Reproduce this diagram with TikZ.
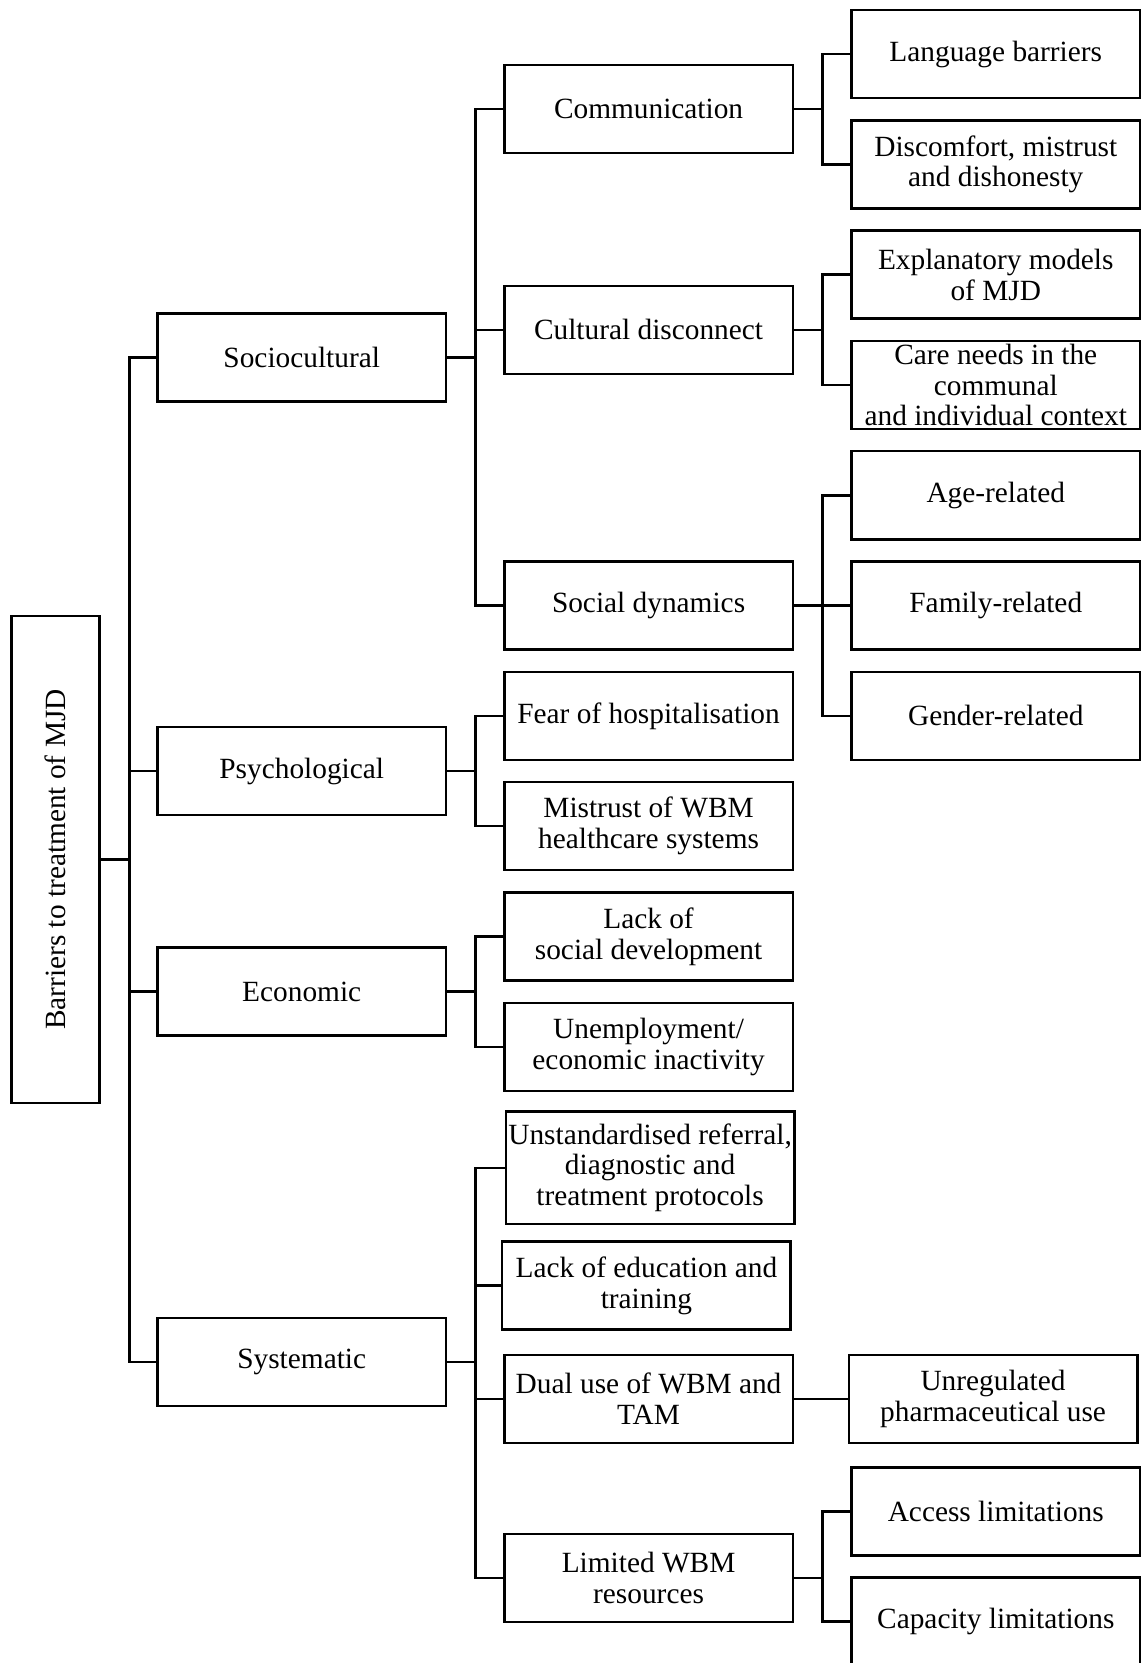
\documentclass[tikz,border=0pt]{standalone}
\usepackage{fontspec}
\setmainfont{Liberation Serif}
\usepackage{graphicx}
\usepackage{tikz}
\usetikzlibrary{positioning}

\begin{document}
\begin{tikzpicture}[
        catbox/.style={rectangle, draw, line width=1pt, minimum height=1.297cm, minimum width=4.25cm, align=center, inner xsep=1pt, inner ysep=0pt, font=\fontsize{12.3}{12.9}\selectfont},
        rootbox/.style={rectangle, draw, line width=1pt, minimum height=7.17cm, minimum width=1.297cm, inner sep=0pt, font=\fontsize{12.3}{12.9}\selectfont},
        link/.style={line width=1pt}
    ]
        \useasboundingbox (0,0) rectangle (16.8125,-24.5);
        \clip (0,0) rectangle (16.8125,-24.5);

        % Root
        \node[rootbox] (root) at (0.82,-12.664) {\rotatebox{90}{Barriers to treatment of MJD}};

        % Main barriers
        \node[catbox] (socio) at (4.445,-5.266) {Sociocultural};
        \node[catbox] (psych) at (4.445,-11.359) {Psychological};
        \node[catbox] (econ) at (4.445,-14.609) {Economic};
        \node[catbox] (syst) at (4.445,-20.063) {Systematic};

        % Sociocultural
        \node[catbox] (comm) at (9.555,-1.609) {Communication};
        \node[catbox] (cult) at (9.555,-4.859) {Cultural disconnect};
        \node[catbox] (social) at (9.555,-8.922) {Social dynamics};
        \node[catbox, right=0.83cm of comm, yshift=0.8125cm] (lang) {Language barriers};
        \node[catbox, right=0.83cm of comm, yshift=-0.8125cm] (discomf) {Discomfort, mistrust\\and dishonesty};
        \node[catbox, right=0.83cm of cult, yshift=0.8125cm] (explan) {Explanatory models\\of MJD};
        \node[catbox, right=0.83cm of cult, yshift=-0.8125cm] (care) {Care needs in the\\communal\\and individual context};
        \node[catbox, right=0.83cm of social, yshift=1.625cm] (age) {Age-related};
        \node[catbox, right=0.83cm of social] (family) {Family-related};
        \node[catbox, right=0.83cm of social, yshift=-1.625cm] (gender) {Gender-related};

        % Psychological
        \node[catbox] (fear) at (9.555,-10.547) {Fear of hospitalisation};
        \node[catbox] (mistrust) at (9.555,-12.172) {Mistrust of WBM\\healthcare systems};

        % Economic
        \node[catbox] (lackdev) at (9.555,-13.797) {Lack of\\social development};
        \node[catbox] (unemp) at (9.555,-15.422) {Unemployment/\\economic inactivity};

        % Systematic
        \node[catbox, minimum height=1.656cm] (unstd) at (9.578,-17.203) {Unstandardised referral,\\diagnostic and\\treatment protocols};
        \node[catbox] (lackedu) at (9.523,-18.938) {Lack of education and\\training};
        \node[catbox] (dual) at (9.555,-20.609) {Dual use of WBM and\\TAM};
        \node[catbox] (limited) at (9.555,-23.25) {Limited WBM\\resources};
        \node[catbox, right=0.79cm of dual] (unreg) {Unregulated\\pharmaceutical use};
        \node[catbox, right=0.83cm of limited, yshift=0.984cm] (access) {Access limitations};
        \node[catbox, right=0.83cm of limited, yshift=-0.64cm] (capacity) {Capacity limitations};

        % Root links
        \draw[link] (root.east) -- ++(0.42,0) |- (socio.west);
        \draw[link] (root.east) -- ++(0.42,0) |- (psych.west);
        \draw[link] (root.east) -- ++(0.42,0) |- (econ.west);
        \draw[link] (root.east) -- ++(0.42,0) |- (syst.west);

        % Second level links
        \draw[link] (socio.east) -- ++(0.42,0) |- (comm.west);
        \draw[link] (socio.east) -- ++(0.42,0) |- (cult.west);
        \draw[link] (socio.east) -- ++(0.42,0) |- (social.west);
        \draw[link] (psych.east) -- ++(0.42,0) |- (fear.west);
        \draw[link] (psych.east) -- ++(0.42,0) |- (mistrust.west);
        \draw[link] (econ.east) -- ++(0.42,0) |- (lackdev.west);
        \draw[link] (econ.east) -- ++(0.42,0) |- (unemp.west);
        \draw[link] (syst.east) -- ++(0.42,0) |- (unstd.west);
        \draw[link] (syst.east) -- ++(0.42,0) |- (lackedu.west);
        \draw[link] (syst.east) -- ++(0.42,0) |- (dual.west);
        \draw[link] (syst.east) -- ++(0.42,0) |- (limited.west);

        % Third level links
        \draw[link] (comm.east) -- ++(0.42,0) |- (lang.west);
        \draw[link] (comm.east) -- ++(0.42,0) |- (discomf.west);
        \draw[link] (cult.east) -- ++(0.42,0) |- (explan.west);
        \draw[link] (cult.east) -- ++(0.42,0) |- (care.west);
        \draw[link] (social.east) -- ++(0.42,0) |- (age.west);
        \draw[link] (social.east) -- (family.west);
        \draw[link] (social.east) -- ++(0.42,0) |- (gender.west);
        \draw[link] (dual) -- (unreg);
        \draw[link] (limited.east) -- ++(0.42,0) |- (access.west);
        \draw[link] (limited.east) -- ++(0.42,0) |- (capacity.west);
    \end{tikzpicture}
\end{document}
